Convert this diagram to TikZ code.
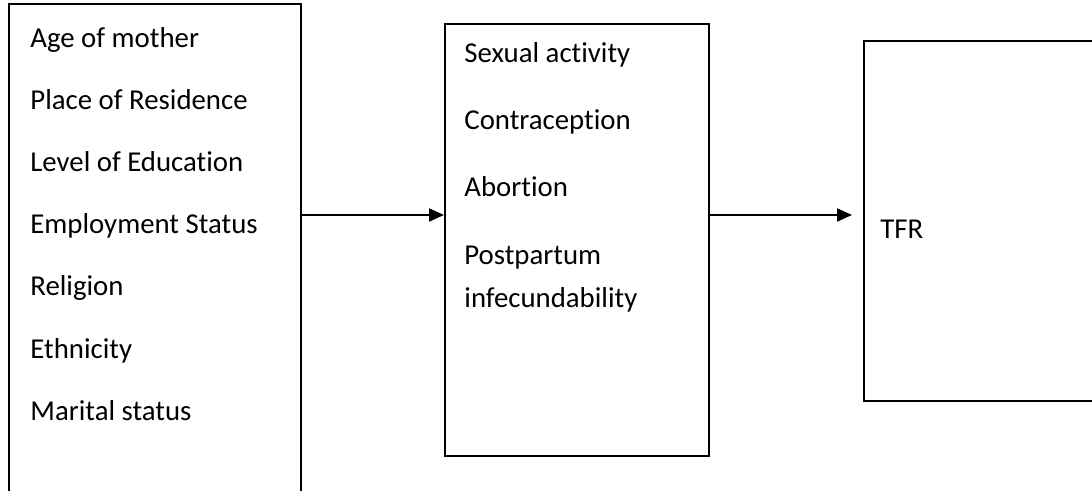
\documentclass[tikz,border=0pt]{standalone}
\usepackage{fontspec}
\setmainfont[Ligatures={NoCommon,NoContextual}]{Carlito}
\usetikzlibrary{arrows.meta}
\begin{document}
\begin{tikzpicture}[x=0.5pt,y=-0.5pt,
    box/.style={draw,line width=1.1pt,inner sep=0pt,anchor=north west},
    item/.style={anchor=base west,inner sep=0pt,font=\fontsize{14.4}{17}\selectfont},
    link/.style={line width=1pt,-{Triangle[length=7.5pt,width=6.5pt]}}]
    \useasboundingbox (0,0) rectangle (1092,491);
    \clip (0,0) rectangle (1092,491);
    % boxes
    \node[box,minimum width=146pt,minimum height=262pt] (causes) at (8,3) {};
    \node[box,minimum width=132pt,minimum height=216pt] (prox) at (444,23) {};
    \node[box,minimum width=125pt,minimum height=180pt] (tfr) at (863,40) {};
    % background factors
    \foreach \n/\y/\t in {
        a/48/Age of mother,
        b/110/Place of Residence,
        c/172/Level of Education,
        d/234/Employment Status,
        e/296/Religion,
        f/359/Ethnicity,
        g/421/Marital status}{
        \node[item] (bg\n) at (30,\y) {\t};
    }
    % proximate determinants
    \foreach \n/\y/\t in {
        a/63/Sexual activity,
        b/130/Contraception,
        c/197/Abortion,
        d/265/Postpartum,
        e/308/infecundability}{
        \node[item] (pd\n) at (464,\y) {\t};
    }
    \node[item] (tfrlabel) at (880,239) {TFR};
    % arrows
    \coordinate (arrowy) at (0,215);
    \coordinate (tfrtip) at ([xshift=-5.5pt]tfr.west |- arrowy);
    \draw[link] (causes.east |- arrowy) -- (prox.west |- arrowy);
    \draw[link] (prox.east |- arrowy) -- (tfrtip);
\end{tikzpicture}
\end{document}
